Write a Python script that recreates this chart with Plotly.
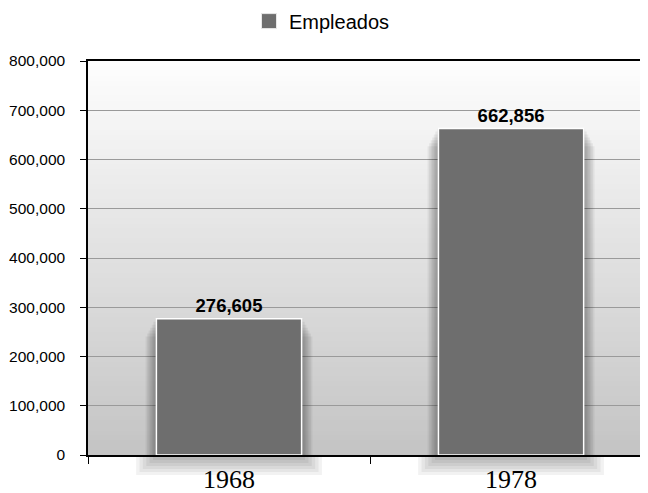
import plotly.graph_objects as go

categories = ["1968", "1978"]
empleados = [276605, 662856]
series_name = "Empleados"
y_ticks = [0, 100000, 200000, 300000, 400000, 500000, 600000, 700000, 800000]
bar_color = "#6e6e6e"
bar_width = 0.515

fig = go.Figure()

# soft drop shadow behind bars (styling layers derived from the data)
for k in range(7):
    fig.add_trace(go.Bar(
        x=categories, y=[v - 6000 * k for v in empleados],
        width=bar_width + 0.011 * (k + 1),
        marker=dict(color="rgba(0,0,0,0.055)", line=dict(width=0)),
        showlegend=False, hoverinfo="skip",
    ))

fig.add_trace(go.Bar(
    x=categories, y=empleados, name=series_name, width=bar_width,
    marker=dict(color=bar_color, line=dict(color="white", width=1.5)),
    texttemplate="<b>%{y:,d}</b>", textposition="outside",
    textfont=dict(family="Liberation Sans, Arial", size=18.5, color="black"),
    cliponaxis=False, showlegend=False,
))

# legend entry with a larger square swatch
fig.add_trace(go.Scatter(
    x=[None], y=[None], mode="markers", name=series_name,
    marker=dict(symbol="square", size=15, color=bar_color,
                line=dict(color="#e8e8e8", width=1)),
    showlegend=True, hoverinfo="skip",
))

# vertical gradient background (white -> light gray), overlapping rects avoid seams
n = 80
shapes = []
for i in range(n):
    t = i / (n - 1)
    c = int(round(253 - t * (253 - 196)))
    shapes.append(dict(type="rect", xref="x domain", yref="y domain",
                       x0=0, x1=1, y0=0, y1=1 - i / n,
                       fillcolor=f"rgb({c},{c},{c})", line=dict(width=0), layer="below"))

# shadow spilling below the baseline under each bar
plot_h = 394.0
for idx in range(len(categories)):
    for k in range(6):
        half = bar_width / 2 + 0.012 * (6 - k)
        shapes.append(dict(type="rect", xref="x", yref="paper",
                           x0=idx - half, x1=idx + half,
                           y0=-(20 - 3 * k) / plot_h, y1=0,
                           fillcolor="rgba(0,0,0,0.05)", line=dict(width=0), layer="below"))

fig.update_layout(
    width=648, height=485,
    margin=dict(l=80, r=0, t=53, b=38, autoexpand=False),
    paper_bgcolor="white", plot_bgcolor="rgba(0,0,0,0)",
    barmode="overlay",
    shapes=shapes,
    showlegend=True,
    legend=dict(orientation="h", xref="paper", yref="container",
                x=(314 - 80) / 568, xanchor="center", y=0.973, yanchor="middle",
                font=dict(family="Liberation Sans, Arial", size=20, color="black")),
    font=dict(family="Liberation Sans, Arial", color="black"),
)

fig.update_xaxes(
    type="category", range=[-0.5, 1.514],
    showline=True, linecolor="black", linewidth=1.5, mirror=True,
    ticks="outside", tickson="boundaries", ticklen=7, tickcolor="black",
    showgrid=False,
    tickfont=dict(family="Liberation Serif, Times New Roman", size=26, color="black"),
)
fig.update_yaxes(
    range=[0, 800000], tickvals=y_ticks, tickformat=",d",
    showline=True, linecolor="black", linewidth=1.5,
    ticks="outside", ticklen=6, tickcolor="black",
    ticklabelstandoff=12,
    showgrid=True, gridcolor="#9a9a9a", gridwidth=1.2,
    tickfont=dict(family="Liberation Sans, Arial", size=15.5, color="black"),
    zeroline=False,
)

fig.write_html("out.html")
